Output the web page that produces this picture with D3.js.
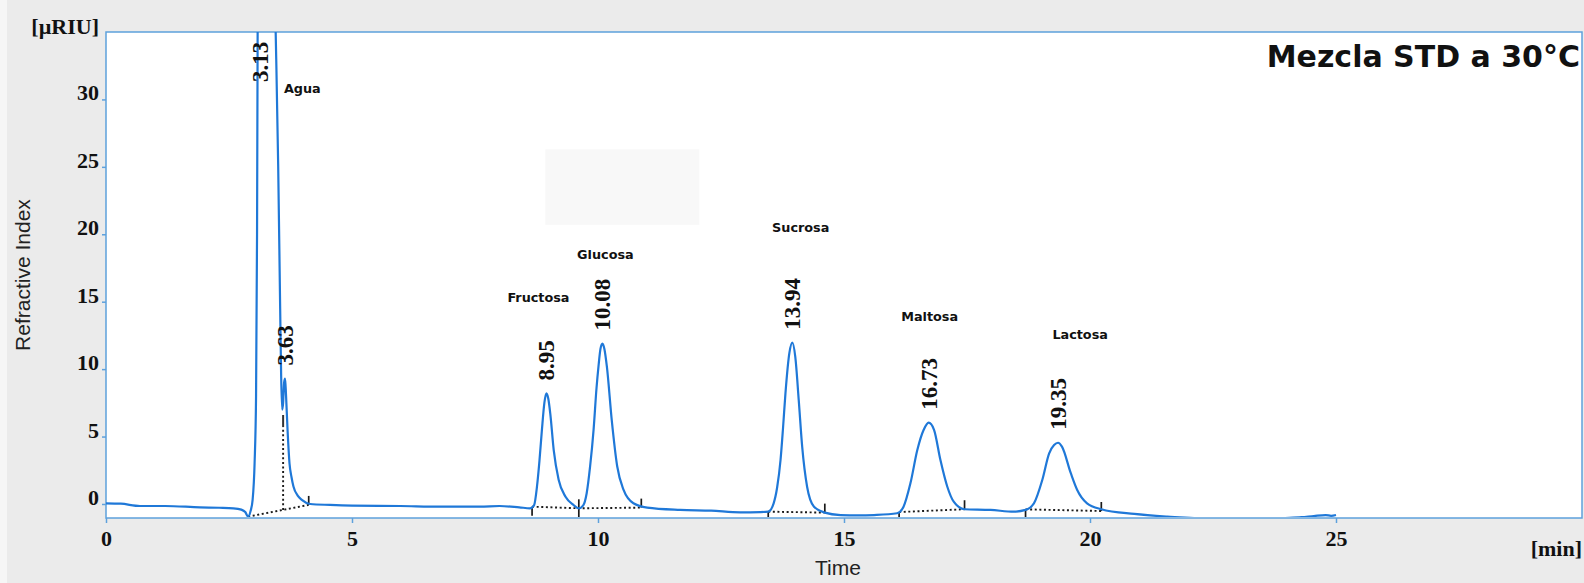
<!DOCTYPE html>
<html>
  <head>
    <meta charset="utf-8">
    <title>Mezcla STD a 30°C</title>
    <style media="screen">
      body { margin: 0; background: #ebebeb; }
      .trace { fill: none; stroke: #1f78d8; stroke-width: 2.2; }
      .frame { fill: #fff; stroke: #5ea1dc; stroke-width: 1.5; }
      .axis path { display: none; }
      .axis line { stroke: #5ea1dc; stroke-width: 1.5; }
      .axis text { font-family: "Liberation Serif", serif; font-weight: bold; font-size: 22px; fill: #111; }
      .base { fill: none; stroke: #1a1a1a; stroke-width: 1.9; stroke-dasharray: 2,2.6; }
      .mark { stroke: #1a1a1a; stroke-width: 1.7; }
      .rt { font-family: "Liberation Serif", serif; font-weight: bold; font-size: 23px; fill: #111; }
      .name { font-family: "DejaVu Sans", sans-serif; font-weight: bold; font-size: 12.8px; fill: #111; text-anchor: middle; }
      .unit { font-family: "Liberation Serif", serif; font-weight: bold; font-size: 22px; fill: #111; text-anchor: end; }
      .label { font-family: "Liberation Sans", sans-serif; font-size: 21px; fill: #222; text-anchor: middle; }
    </style>
  </head>
  <body>
    <div class="container"></div>
    <script src="https://cdn.jsdelivr.net/npm/d3@7/dist/d3.min.js" charset="utf-8"></script>
    <script type="text/javascript">
    // trace: [time min, signal µRIU]
    var trace = [
      [0.00, 0.05], [0.30, 0.02], [0.69, -0.15], [1.20, -0.15], [1.91, -0.25], [2.30, -0.28],
      [2.59, -0.32], [2.75, -0.42], [2.83, -0.60], [2.89, -0.94], [2.94, -0.50], [2.98, 0.30],
      [3.02, 3.0], [3.05, 8.0], [3.07, 20], [3.09, 45], [3.13, 70], [3.30, 60], [3.42, 40],
      [3.46, 33], [3.50, 25], [3.54, 14.5], [3.56, 9.5], [3.58, 7.0], [3.60, 7.5], [3.62, 9.0],
      [3.64, 9.3], [3.66, 8.0], [3.69, 5.5], [3.73, 3.0], [3.77, 2.0], [3.81, 1.3], [3.90, 0.6],
      [3.98, 0.30], [4.15, 0.00], [4.55, -0.07], [5.00, -0.12], [5.98, -0.15], [6.80, -0.20],
      [7.60, -0.20], [8.00, -0.15], [8.40, -0.25], [8.62, -0.32],
      [8.70, -0.10], [8.76, 1.3], [8.81, 3.2], [8.86, 5.5], [8.91, 7.5], [8.95, 8.2], [8.99, 7.8],
      [9.03, 6.7], [9.10, 4.0], [9.20, 1.8], [9.34, 0.54], [9.50, -0.07], [9.61, -0.32],
      [9.70, -0.10], [9.77, 0.8], [9.84, 2.8], [9.91, 5.5], [9.97, 8.6], [10.01, 10.2], [10.05, 11.5],
      [10.09, 11.9], [10.13, 11.5], [10.18, 10.2], [10.28, 6.2], [10.39, 2.8], [10.52, 1.04],
      [10.72, 0.05], [11.00, -0.27], [11.67, -0.44], [12.30, -0.50], [12.89, -0.62], [13.30, -0.60],
      [13.46, -0.57], [13.57, 0.05], [13.64, 1.2], [13.71, 3.26], [13.76, 5.6], [13.81, 8.2],
      [13.89, 11.2], [13.95, 11.96], [14.01, 10.9], [14.08, 7.7], [14.15, 4.25], [14.25, 1.28],
      [14.39, -0.20], [14.61, -0.64], [14.93, -0.82], [15.30, -0.85], [15.61, -0.82], [16.08, -0.69],
      [16.21, -0.20], [16.35, 1.53], [16.49, 4.0], [16.62, 5.5], [16.72, 6.03], [16.83, 5.5],
      [16.96, 3.26], [17.10, 1.28], [17.23, 0.17], [17.45, -0.39], [17.98, -0.44], [18.45, -0.57],
      [18.69, -0.44], [18.86, 0.05], [19.03, 1.78], [19.17, 3.76], [19.27, 4.37], [19.35, 4.54],
      [19.43, 4.25], [19.61, 2.28], [19.74, 1.04], [19.94, 0.05], [20.23, -0.39], [20.90, -0.74],
      [21.57, -0.94], [22.18, -1.06], [22.80, -1.20], [23.40, -1.20], [23.84, -1.06], [24.30, -0.98],
      [24.55, -0.89], [24.79, -0.82], [24.90, -0.88], [25.00, -0.82]
    ];

    // retention times and apex heights (first one is off scale)
    var peakTimes = [3.13, 3.63, 8.95, 10.08, 13.94, 16.73, 19.35];
    var peakHeights = [70, 9.3, 8.2, 11.9, 11.96, 6.03, 4.54];

    var names = ["Agua", "Fructosa", "Glucosa", "Sucrosa", "Maltosa", "Lactosa"];
    var nameTimes = [3.99, 8.79, 10.15, 14.12, 16.74, 19.80];
    var nameValues = [30.8, 15.3, 18.5, 20.5, 13.9, 12.6];

    // integration baselines and start / end marks
    var baseSegs = [
      [[2.89, -0.94], [3.60, -0.44], [4.12, -0.07]],
      [[8.66, -0.20], [9.61, -0.32], [10.88, -0.27]],
      [[13.46, -0.57], [14.61, -0.64]],
      [[16.12, -0.60], [17.45, -0.39]],
      [[18.69, -0.40], [20.23, -0.52]]
    ];
    var startMarks = [[8.66, -0.20], [9.61, -0.32], [13.46, -0.57], [16.12, -0.60], [18.69, -0.40]];
    var endMarks = [[4.12, -0.07], [9.61, -0.32], [10.88, -0.27], [14.61, -0.64], [17.45, -0.39], [20.23, -0.52]];
    var dropLine = [3.60, -0.44, 5.7, 6.6];

    var xTicks = [0, 5, 10, 15, 20, 25];
    var yTicks = [0, 5, 10, 15, 20, 25, 30];

    var width = 1584;
    var height = 583;
    var padding = { left: 106, right: 2, top: 32, bottom: 65 };

    var x = d3.scaleLinear().domain([0, 30]).range([padding.left, width - padding.right]);
    var y = d3.scaleLinear().domain([-1.04, 35]).range([height - padding.bottom, padding.top]);

    var svg = d3.select(".container")
        .append("svg")
        .attr("width", width)
        .attr("height", height);

    svg.append("rect").attr("width", width).attr("height", height).attr("fill", "#ebebeb");
    svg.append("rect").attr("width", 7).attr("height", height).attr("fill", "#f6f6f6");

    svg.append("rect")
        .attr("class", "frame")
        .attr("x", x(0)).attr("y", y(35))
        .attr("width", x(30) - x(0)).attr("height", y(-1.04) - y(35));

    // pale patch in the middle of the picture
    svg.append("rect")
        .attr("x", x(8.93)).attr("y", y(26.3))
        .attr("width", x(12.06) - x(8.93)).attr("height", y(20.7) - y(26.3))
        .attr("fill", "#f8f8f8");

    svg.append("clipPath").attr("id", "plotclip")
      .append("rect")
        .attr("x", x(0)).attr("y", y(35))
        .attr("width", x(30) - x(0)).attr("height", y(-1.04) - y(35) - 1);

    var plot = svg.append("g").attr("clip-path", "url(#plotclip)");

    var line = d3.line()
        .x(function(d) { return x(d[0]); })
        .y(function(d) { return y(d[1]); });

    plot.selectAll(".base")
        .data(baseSegs)
        .enter()
        .append("path")
        .attr("class", "base")
        .attr("d", line);

    plot.append("line")
        .attr("class", "base")
        .attr("x1", x(dropLine[0])).attr("x2", x(dropLine[0]))
        .attr("y1", y(dropLine[1])).attr("y2", y(dropLine[2]));
    plot.append("line")
        .attr("stroke", "#333").attr("stroke-width", 2)
        .attr("x1", x(dropLine[0])).attr("x2", x(dropLine[0]))
        .attr("y1", y(dropLine[2])).attr("y2", y(dropLine[3]));

    plot.selectAll(".mstart")
        .data(startMarks)
        .enter()
        .append("line")
        .attr("class", "mark mstart")
        .attr("x1", function(d) { return x(d[0]); })
        .attr("x2", function(d) { return x(d[0]); })
        .attr("y1", function(d) { return y(d[1]); })
        .attr("y2", function(d) { return y(d[1]) + 9; });

    plot.selectAll(".mend")
        .data(endMarks)
        .enter()
        .append("line")
        .attr("class", "mark mend")
        .attr("x1", function(d) { return x(d[0]); })
        .attr("x2", function(d) { return x(d[0]); })
        .attr("y1", function(d) { return y(d[1]); })
        .attr("y2", function(d) { return y(d[1]) - 9; });

    plot.append("path")
        .datum(trace)
        .attr("class", "trace")
        .attr("d", line.curve(d3.curveMonotoneX));

    // axes
    svg.append("g")
        .attr("class", "axis")
        .attr("transform", "translate(" + x(0) + ",0)")
        .call(d3.axisLeft(y).tickValues(yTicks).tickSize(4).tickPadding(3).tickFormat(d3.format("d")))
        .selectAll("text").attr("dy", "0.02em");

    svg.append("g")
        .attr("class", "axis")
        .attr("transform", "translate(0," + y(-1.04) + ")")
        .call(d3.axisBottom(x).tickValues(xTicks).tickSize(5).tickPadding(7).tickFormat(d3.format("d")));

    // retention time labels
    svg.selectAll(".rt")
        .data(peakTimes)
        .enter()
        .append("text")
        .attr("class", "rt")
        .attr("transform", function(d, i) {
          var ty = Math.max(y(peakHeights[i]) - 13, y(35) + 50);
          return "translate(" + x(d) + "," + ty + ") rotate(-90)";
        })
        .attr("dy", "0.35em")
        .text(function(d) { return d.toFixed(2); });

    svg.selectAll(".name")
        .data(names)
        .enter()
        .append("text")
        .attr("class", "name")
        .attr("x", function(d, i) { return x(nameTimes[i]); })
        .attr("y", function(d, i) { return y(nameValues[i]); })
        .attr("dy", "0.35em")
        .text(function(d) { return d; });

    svg.append("text")
        .attr("x", x(30) - 2).attr("y", 67)
        .attr("text-anchor", "end")
        .attr("font-family", "DejaVu Sans, sans-serif")
        .attr("font-weight", "bold")
        .attr("font-size", "30px")
        .attr("fill", "#111")
        .text("Mezcla STD a 30°C");

    svg.append("text").attr("class", "unit").attr("x", 99).attr("y", 34).text("[µRIU]");
    svg.append("text").attr("class", "unit").attr("x", x(30)).attr("y", 556).text("[min]");

    svg.append("text").attr("class", "label").attr("x", 838).attr("y", 575).text("Time");
    svg.append("text").attr("class", "label")
        .attr("transform", "translate(30,275) rotate(-90)")
        .text("Refractive Index");
    </script>
  </body>
</html>
